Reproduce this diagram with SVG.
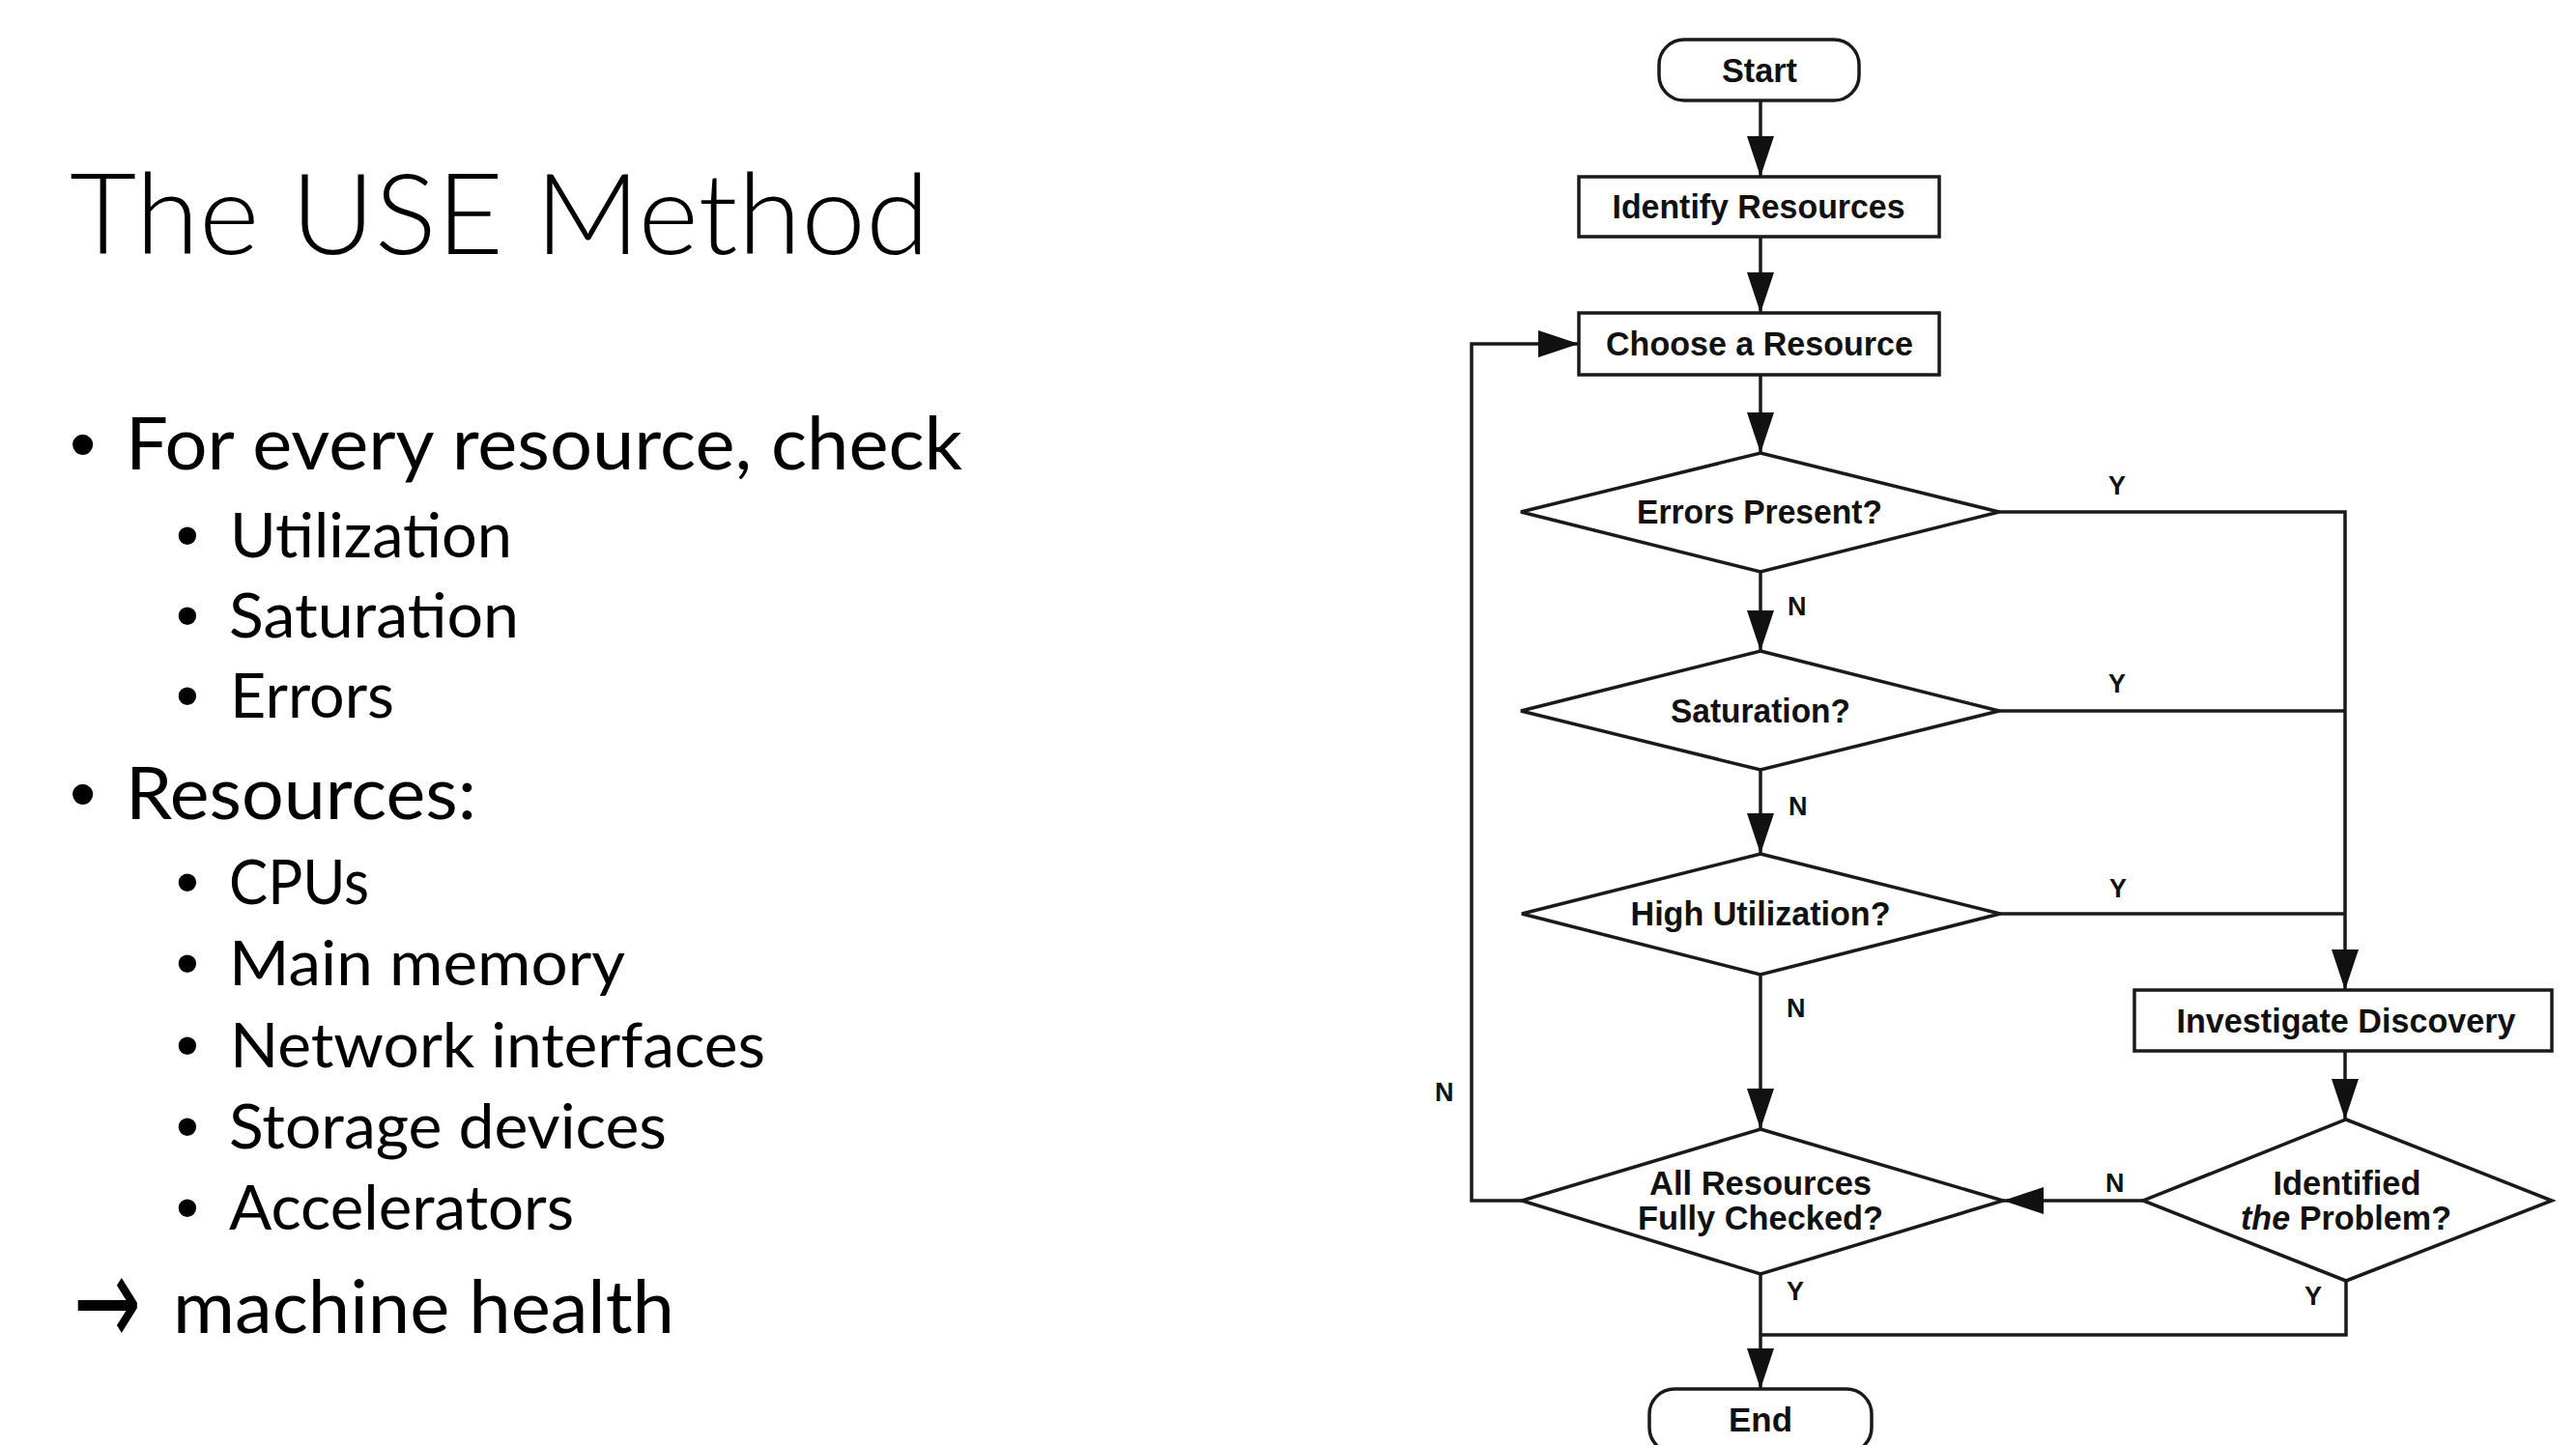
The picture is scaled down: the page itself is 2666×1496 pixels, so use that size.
<svg xmlns="http://www.w3.org/2000/svg" width="2666" height="1496" viewBox="0 0 2666 1496">
<defs>
<style>
.t{font-family:"Lato","Open Sans",sans-serif;fill:#000}
.title{font-size:117px;font-weight:300}
.l1{font-size:75px}
.l2{font-size:64px}
.b1{font-family:"Liberation Sans",Arial,sans-serif;font-size:78px;fill:#000}
.b2{font-family:"Liberation Sans",Arial,sans-serif;font-size:68px;fill:#000}
.shape{fill:#fff;stroke:#1a1a1a;stroke-width:3.5}
.lbl{font-family:"Liberation Sans Narrow","Liberation Sans",Arial,sans-serif;font-weight:bold;font-size:35px;fill:#111;text-anchor:middle}
.yn{font-family:"Liberation Sans Narrow","Liberation Sans",Arial,sans-serif;font-weight:bold;font-size:27px;fill:#111}
.edge{fill:none;stroke:#1a1a1a;stroke-width:3.5}
</style>
<marker id="ah" markerUnits="userSpaceOnUse" markerWidth="42" markerHeight="28" refX="42" refY="14" orient="auto">
<path d="M0,0 L42,14 L0,28 z" fill="#111"/>
</marker>
</defs>
<rect width="2666" height="1496" fill="#fff"/>

<g id="slide-text">
<text class="t title" x="72" y="263" textLength="890" lengthAdjust="spacingAndGlyphs">The USE Method</text>
<text class="b1" x="72" y="486">•</text>
<text class="t l1" x="130" y="486" textLength="866" lengthAdjust="spacingAndGlyphs">For every resource, check</text>
<text class="b2" x="182" y="577">•</text>
<text class="t l2" x="238" y="577" textLength="292" lengthAdjust="spacingAndGlyphs">Utilization</text>
<text class="b2" x="182" y="660">•</text>
<text class="t l2" x="237" y="660" textLength="300" lengthAdjust="spacingAndGlyphs">Saturation</text>
<text class="b2" x="182" y="743">•</text>
<text class="t l2" x="238" y="743" textLength="170" lengthAdjust="spacingAndGlyphs">Errors</text>
<text class="b1" x="72" y="848">•</text>
<text class="t l1" x="130" y="848" textLength="363" lengthAdjust="spacingAndGlyphs">Resources:</text>
<text class="b2" x="182" y="936">•</text>
<text class="t l2" x="237" y="936" textLength="145" lengthAdjust="spacingAndGlyphs">CPUs</text>
<text class="b2" x="182" y="1020">•</text>
<text class="t l2" x="237" y="1020" textLength="410" lengthAdjust="spacingAndGlyphs">Main memory</text>
<text class="b2" x="182" y="1105">•</text>
<text class="t l2" x="238" y="1105" textLength="554" lengthAdjust="spacingAndGlyphs">Network interfaces</text>
<text class="b2" x="182" y="1189">•</text>
<text class="t l2" x="237" y="1189" textLength="453" lengthAdjust="spacingAndGlyphs">Storage devices</text>
<text class="b2" x="182" y="1273">•</text>
<text class="t l2" x="237" y="1273" textLength="357" lengthAdjust="spacingAndGlyphs">Accelerators</text>
<text x="76" y="1378" font-family="'DejaVu Sans',sans-serif" font-size="86" fill="#000" transform="translate(0,1350) scale(1,1.55) translate(0,-1350)" textLength="70" lengthAdjust="spacingAndGlyphs">→</text>
<text class="t l1" x="179" y="1380" textLength="519" lengthAdjust="spacingAndGlyphs">machine health</text>
</g>

<g id="connectors">
<path class="edge" d="M1822,104 V183" marker-end="url(#ah)"/>
<path class="edge" d="M1822,245 V324" marker-end="url(#ah)"/>
<path class="edge" d="M1822,388 V469" marker-end="url(#ah)"/>
<path class="edge" d="M1822,592 V674" marker-end="url(#ah)"/>
<path class="edge" d="M1822,797 V884" marker-end="url(#ah)"/>
<path class="edge" d="M1822,1009 V1169" marker-end="url(#ah)"/>
<path class="edge" d="M2069,530 H2427 V1025" marker-end="url(#ah)"/>
<path class="edge" d="M2069,736 H2427"/>
<path class="edge" d="M2070,946 H2427"/>
<path class="edge" d="M2427,1088 V1159" marker-end="url(#ah)"/>
<path class="edge" d="M2218,1243 H2073" marker-end="url(#ah)"/>
<path class="edge" d="M1822,1319 V1438" marker-end="url(#ah)"/>
<path class="edge" d="M2428,1326 V1382 H1822"/>
<path class="edge" d="M1575,1243 H1523 V356 H1634" marker-end="url(#ah)"/>
<text class="yn" x="2182" y="512">Y</text>
<text class="yn" x="2182" y="717">Y</text>
<text class="yn" x="2183" y="929">Y</text>
<text class="yn" x="1850" y="637">N</text>
<text class="yn" x="1851" y="844">N</text>
<text class="yn" x="1849" y="1053">N</text>
<text class="yn" x="1485" y="1140">N</text>
<text class="yn" x="2179" y="1234">N</text>
<text class="yn" x="1849" y="1346">Y</text>
<text class="yn" x="2385" y="1351">Y</text>
</g>

<g id="node-start">
<rect class="shape" x="1717" y="41" width="207" height="63" rx="26"/>
<text class="lbl" x="1821" y="85" textLength="78" lengthAdjust="spacingAndGlyphs">Start</text>
</g>
<g id="node-identify">
<rect class="shape" x="1634" y="183" width="373" height="62"/>
<text class="lbl" x="1820" y="226" textLength="303" lengthAdjust="spacingAndGlyphs">Identify Resources</text>
</g>
<g id="node-choose">
<rect class="shape" x="1634" y="324" width="373" height="64"/>
<text class="lbl" x="1821" y="368" textLength="318" lengthAdjust="spacingAndGlyphs">Choose a Resource</text>
</g>
<g id="node-errors">
<polygon class="shape" points="1822,469 2069,530 1822,592 1574,530"/>
<text class="lbl" x="1821" y="542" textLength="254" lengthAdjust="spacingAndGlyphs">Errors Present?</text>
</g>
<g id="node-saturation">
<polygon class="shape" points="1822,674 2069,736 1822,797 1574,736"/>
<text class="lbl" x="1822" y="748" textLength="186" lengthAdjust="spacingAndGlyphs">Saturation?</text>
</g>
<g id="node-utilization">
<polygon class="shape" points="1822,884 2070,946 1822,1009 1575,946"/>
<text class="lbl" x="1822" y="958" textLength="269" lengthAdjust="spacingAndGlyphs">High Utilization?</text>
</g>
<g id="node-investigate">
<rect class="shape" x="2209" y="1025" width="432" height="63"/>
<text class="lbl" x="2428" y="1069" textLength="351" lengthAdjust="spacingAndGlyphs">Investigate Discovery</text>
</g>
<g id="node-allchecked">
<polygon class="shape" points="1822,1169 2073,1243 1822,1319 1575,1243"/>
<text class="lbl" x="1822" y="1237" textLength="230" lengthAdjust="spacingAndGlyphs">All Resources</text>
<text class="lbl" x="1822" y="1273" textLength="254" lengthAdjust="spacingAndGlyphs">Fully Checked?</text>
</g>
<g id="node-identified">
<polygon class="shape" points="2428,1159 2641,1243 2428,1326 2218,1243"/>
<text class="lbl" x="2429" y="1237" textLength="153" lengthAdjust="spacingAndGlyphs">Identified</text>
<text class="lbl" x="2428" y="1273" textLength="218" lengthAdjust="spacingAndGlyphs"><tspan font-style="italic">the</tspan> Problem?</text>
</g>
<g id="node-end">
<rect class="shape" x="1707" y="1438" width="230" height="66" rx="26"/>
<text class="lbl" x="1822" y="1482" textLength="66" lengthAdjust="spacingAndGlyphs">End</text>
</g>
</svg>
